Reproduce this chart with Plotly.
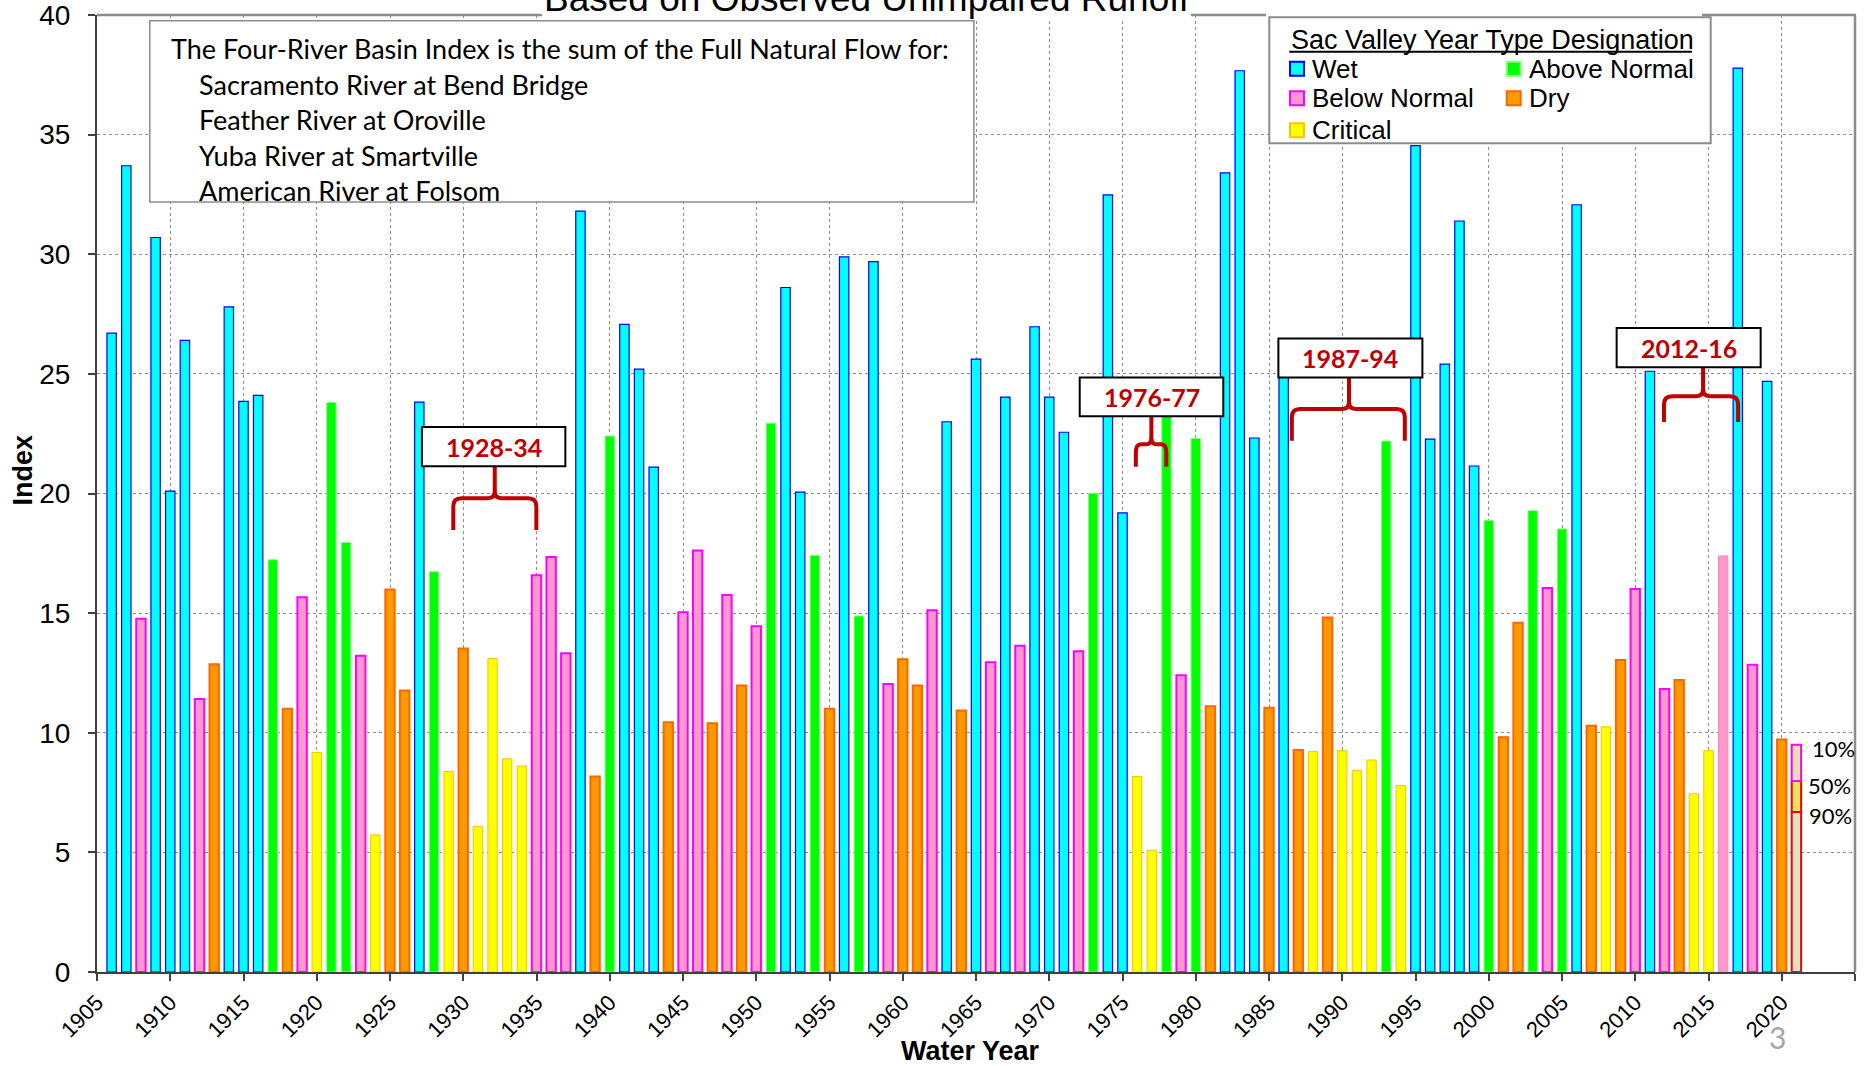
import plotly.graph_objects as go

# ---------------- data ----------------
years = list(range(1906, 2021))
index_values = [
    26.7, 33.7, 14.77, 30.7, 20.1,                                   # 1906-1910
    26.4, 11.41, 12.86, 27.8, 23.85, 24.1, 17.23, 11.0, 15.66, 9.18,  # 1911-1920
    23.8, 17.95, 13.22, 5.73, 15.99, 11.77, 23.82, 16.73, 8.38, 13.52, # 1921-1930
    6.09, 13.1, 8.91, 8.61, 16.58, 17.35, 13.32, 31.8, 8.17, 22.4,    # 1931-1940
    27.07, 25.2, 21.1, 10.44, 15.04, 17.62, 10.4, 15.76, 11.97, 14.45, # 1941-1950
    22.94, 28.61, 20.06, 17.41, 11.0, 29.89, 14.88, 29.69, 12.04, 13.07, # 1951-1960
    11.97, 15.12, 23.0, 10.93, 25.62, 12.95, 24.03, 13.64, 26.97, 24.03, # 1961-1970
    22.56, 13.41, 20.01, 32.48, 19.19, 8.17, 5.09, 23.9, 12.4, 22.3,   # 1971-1980
    11.11, 33.4, 37.67, 22.32, 11.05, 25.8, 9.28, 9.22, 14.82, 9.25,   # 1981-1990
    8.43, 8.86, 22.19, 7.79, 34.54, 22.27, 25.41, 31.39, 21.15, 18.87, # 1991-2000
    9.81, 14.6, 19.28, 16.05, 18.52, 32.07, 10.29, 10.25, 13.04, 16.01, # 2001-2010
    25.11, 11.83, 12.21, 7.45, 9.25, 17.39, 37.78, 12.84, 24.69, 9.72, # 2011-2020
]
year_types = (
    ["W", "W", "BN", "W", "W"]
    + ["W", "BN", "D", "W", "W", "W", "AN", "D", "BN", "C"]
    + ["AN", "AN", "BN", "C", "D", "D", "W", "AN", "C", "D"]
    + ["C", "C", "C", "C", "BN", "BN", "BN", "W", "D", "AN"]
    + ["W", "W", "W", "D", "BN", "BN", "D", "BN", "D", "BN"]
    + ["AN", "W", "W", "AN", "D", "W", "AN", "W", "BN", "D"]
    + ["D", "BN", "W", "D", "W", "BN", "W", "BN", "W", "W"]
    + ["W", "BN", "AN", "W", "W", "C", "C", "AN", "BN", "AN"]
    + ["D", "W", "W", "W", "D", "W", "D", "C", "D", "C"]
    + ["C", "C", "AN", "C", "W", "W", "W", "W", "W", "AN"]
    + ["D", "D", "AN", "BN", "AN", "W", "D", "C", "D", "BN"]
    + ["W", "BN", "D", "C", "C", "BNp", "W", "BN", "W", "D"]
)
type_names = {"W": "Wet", "AN": "Above Normal", "BN": "Below Normal", "D": "Dry", "C": "Critical"}

forecast_year = 2021
forecast_levels = ["90%", "50%", "10%"]
forecast_values = [6.69, 7.98, 9.5]

drought_labels = ["1928-34", "1976-77", "1987-94", "2012-16"]

x_tick_vals = [1905, 1910, 1915, 1920, 1925, 1930, 1935, 1940, 1945, 1950, 1955, 1960,
               1965, 1970, 1975, 1980, 1985, 1990, 1995, 2000, 2005, 2010, 2015, 2020, 2025]
x_tick_text = ["1905", "1910", "1915", "1920", "1925", "1930", "1935", "1940", "1945", "1950",
               "1955", "1960", "1965", "1970", "1975", "1980", "1985", "1990", "1995", "2000",
               "2005", "2010", "2015", "2020", ""]
y_tick_vals = [0, 5, 10, 15, 20, 25, 30, 35, 40]

info_lines = [
    "The Four-River Basin Index is the sum of the Full Natural Flow for:",
    "Sacramento River at Bend Bridge",
    "Feather River at Oroville",
    "Yuba River at Smartville",
    "American River at Folsom",
]

# ---------------- styles ----------------
STYLE = {
    "W": dict(fill="#00ffff", line="#0000ff", lw=1.2),
    "AN": dict(fill="#00ff00", line="#80ff80", lw=1.0),
    "BN": dict(fill="#ff99cc", line="#ff00ff", lw=2.0),
    "D": dict(fill="#ff9900", line="#ff6600", lw=2.0),
    "C": dict(fill="#ffff00", line="#ffc000", lw=1.0),
    "BNp": dict(fill="#ff99cc", line="#ff80c0", lw=1.0),
}
BAR_W = 0.64
ARIAL = "Liberation Sans, Arial, sans-serif"
CALIBRI = "Lato, Carlito, Calibri, sans-serif"
DARKRED = "#c00000"

W_PX, H_PX = 1868, 1066
ML, MR, MT, MB = 97, 13, 15, 94
PW = W_PX - ML - MR
PH = H_PX - MT - MB


def px(xp):
    return (xp - ML) / PW


def py(yp):
    return (H_PX - MB - yp) / PH


fig = go.Figure()

for t in ["W", "AN", "BN", "D", "C", "BNp"]:
    xs = [y for y, tt in zip(years, year_types) if tt == t]
    vs = [v for v, tt in zip(index_values, year_types) if tt == t]
    s = STYLE[t]
    fig.add_trace(go.Bar(
        x=xs, y=vs, width=BAR_W, name=type_names.get(t, "Below Normal"),
        marker=dict(color=s["fill"], line=dict(color=s["line"], width=s["lw"])),
        showlegend=False,
    ))

# forecast stacked bar for 2021
bases = [0] + forecast_values[:-1]
seg_fill = ["#e2e2c4", "#e8e266", "#e4e0b4"]
seg_line = ["#ff0000", "#ff0000", "#ff00ff"]
for lvl, top, base, fc, lc in zip(forecast_levels, forecast_values, bases, seg_fill, seg_line):
    fig.add_trace(go.Bar(
        x=[forecast_year], y=[top - base], base=[base], width=BAR_W, name=lvl,
        marker=dict(color=fc, line=dict(color=lc, width=2)), showlegend=False,
    ))

shapes = []
annotations = []


def prect(x0, y0, x1, y1, fill, line, lw):
    shapes.append(dict(type="rect", xref="paper", yref="paper",
                       x0=px(x0), x1=px(x1), y0=py(y1), y1=py(y0),
                       fillcolor=fill, line=dict(color=line, width=lw), layer="above"))


def pline(x0, y0, x1, y1, color, lw):
    shapes.append(dict(type="line", xref="paper", yref="paper",
                       x0=px(x0), x1=px(x1), y0=py(y0), y1=py(y1),
                       line=dict(color=color, width=lw), layer="above"))


def ptext(xp, yp, text, size, family=ARIAL, color="black", xanchor="left", angle=0):
    annotations.append(dict(xref="paper", yref="paper", x=px(xp), y=py(yp), text=text,
                            showarrow=False, xanchor=xanchor, yanchor="middle",
                            textangle=angle, font=dict(family=family, size=size, color=color)))


# frame: right and top (gray)
FRAME = "#8c8c8c"
pline(1855, 15, 1855, 972, FRAME, 2.5)
# masks over the top gridline where title / legend sit
prect(540, 8, 1193, 18.5, "white", "rgba(0,0,0,0)", 0)
prect(1264, 8, 1702, 18.5, "white", "rgba(0,0,0,0)", 0)
pline(97, 15, 542, 15, FRAME, 2.5)
pline(1191, 15, 1266, 15, FRAME, 2.5)
pline(1702, 15, 1856, 15, FRAME, 2.5)

# info text box
prect(149.8, 20.7, 973.9, 202.1, "white", FRAME, 1.5)
line_y = [48.5, 84, 119.5, 155, 190.5]
for i, (txt, yy) in enumerate(zip(info_lines, line_y)):
    ptext(169.4 if i == 0 else 196.7, yy, txt, 27, CALIBRI)

# legend box
prect(1269.3, 17.3, 1710.7, 143.3, "white", FRAME, 2)
ptext(1289.3, 39.5, "Sac Valley Year Type Designation", 27)
pline(1289.3, 51.7, 1692, 51.7, "black", 2)
legend_items = [("W", 0, 68.7), ("AN", 1, 68.7), ("BN", 0, 98.3), ("D", 1, 98.3), ("C", 0, 130.3)]
for t, col, yc in legend_items:
    sx = 1297 if col == 0 else 1513.7
    s = STYLE[t]
    prect(sx - 7, yc - 7, sx + 7, yc + 7, s["fill"], s["line"], 2)
    ptext(sx + 13, yc, type_names[t], 26)

# drought boxes and braces (data coordinates)
box_specs = [
    (1927.18, 1936.97, 21.14, 22.78),
    (1972.08, 1981.88, 23.23, 24.85),
    (1985.64, 1995.47, 24.85, 26.48),
    (2008.73, 2018.56, 25.28, 26.92),
]
brace_specs = [
    (1929.32, 1934.99, 1932.15, 18.47, 19.80, 21.14, 0.55, 0.45),
    (1975.91, 1977.99, 1976.97, 21.12, 22.06, 23.23, 0.35, 0.3),
    (1986.56, 1994.27, 1990.46, 22.20, 23.53, 24.85, 0.55, 0.45),
    (2011.96, 2017.02, 2014.63, 22.99, 24.07, 25.28, 0.55, 0.45),
]
for label, (bx0, bx1, by0, by1), (xL, xR, xC, vB, vM, vT, d, e) in zip(drought_labels, box_specs, brace_specs):
    c = 0.35
    c2 = 0.3
    path = (f"M {xL},{vB} L {xL},{vM - c} Q {xL},{vM} {xL + d},{vM} L {xC - e},{vM} "
            f"Q {xC},{vM} {xC},{vM + c2} L {xC},{vT} "
            f"M {xR},{vB} L {xR},{vM - c} Q {xR},{vM} {xR - d},{vM} L {xC + e},{vM} "
            f"Q {xC},{vM} {xC},{vM + c2}")
    shapes.append(dict(type="path", xref="x", yref="y", path=path,
                       line=dict(color=DARKRED, width=4), layer="above"))
    shapes.append(dict(type="rect", xref="x", yref="y", x0=bx0, x1=bx1, y0=by0, y1=by1,
                       fillcolor="white", line=dict(color="black", width=2), layer="above"))
    annotations.append(dict(xref="x", yref="y", x=(bx0 + bx1) / 2, y=(by0 + by1) / 2,
                            text=f"<b>{label}</b>", showarrow=False,
                            font=dict(family=CALIBRI, size=25, color=DARKRED)))

# forecast percentile labels
for lvl, val, xs in zip(forecast_levels, forecast_values, [11, 10, 14]):
    annotations.append(dict(xref="x", yref="y", x=forecast_year, y=val, xshift=xs, yshift=-4,
                            text=lvl, showarrow=False, xanchor="left", yanchor="middle",
                            font=dict(family=CALIBRI, size=22, color="black")))

# title (clipped at top), axis titles, page number
ptext(866.5, -1.2, "Based on Observed Unimpaired Runoff", 37, ARIAL, xanchor="center")
ptext(970.5, 1051, "<b>Water Year</b>", 27, ARIAL, xanchor="center")
ptext(22.5, 470, "<b>Index</b>", 27, ARIAL, xanchor="center", angle=-90)
ptext(1777, 1037, "3", 30, CALIBRI, color="#a6a6a6", xanchor="center")

AXC = "#404040"
GRID = "#8c8c8c"
fig.update_layout(
    width=W_PX, height=H_PX,
    margin=dict(l=ML, r=MR, t=MT, b=MB, pad=0, autoexpand=False),
    paper_bgcolor="white", plot_bgcolor="white",
    barmode="overlay",
    shapes=shapes, annotations=annotations,
    xaxis=dict(range=[1905, 2025], tickmode="array", tickvals=x_tick_vals, ticktext=x_tick_text,
               tickangle=-45, ticks="outside", ticklen=7, tickwidth=1.5, tickcolor=AXC,
               showline=True, linecolor=AXC, linewidth=2, zeroline=False, automargin=False,
               ticklabeloverflow="allow",
               showgrid=True, gridcolor=GRID, griddash="dot", gridwidth=1,
               tickfont=dict(family=ARIAL, size=22, color="black")),
    yaxis=dict(range=[0, 40], tickmode="array", tickvals=y_tick_vals,
               ticks="outside", ticklen=7, tickwidth=1.5, tickcolor=AXC,
               showline=True, linecolor=AXC, linewidth=2, zeroline=False, automargin=False,
               ticklabeloverflow="allow",
               showgrid=True, gridcolor=GRID, griddash="dot", gridwidth=1,
               ticklabelstandoff=12,
               tickfont=dict(family=ARIAL, size=28, color="black")),
    showlegend=False,
)

fig.write_html("out.html", config={"displayModeBar": False},
               post_script="document.body.style.margin='0';document.body.style.overflow='hidden';")
